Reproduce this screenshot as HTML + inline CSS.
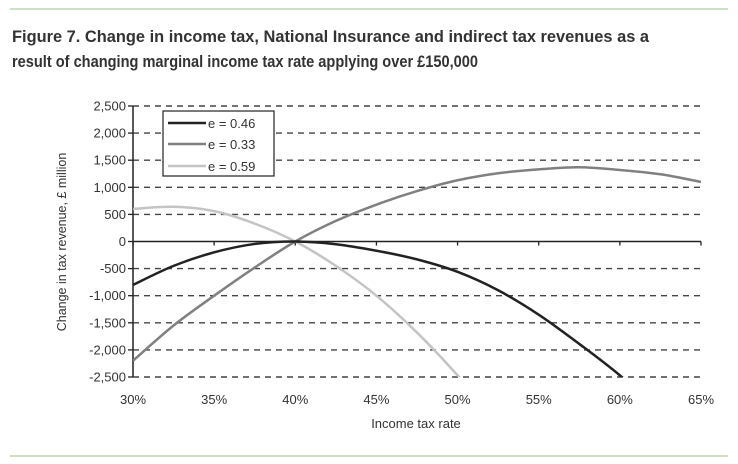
<!DOCTYPE html>
<html><head><meta charset="utf-8"><style>
html,body{margin:0;padding:0;background:#fff;}
svg{display:block;font-family:"Liberation Sans",sans-serif;}
</style></head><body>
<svg id="chart" width="738" height="464" viewBox="0 0 738 464">
<line x1="10" y1="9" x2="728" y2="9" stroke="#9dc08b" stroke-width="1"/>
<line x1="10" y1="456" x2="728" y2="456" stroke="#9dc08b" stroke-width="1"/>
<text x="12" y="42" font-size="17" font-weight="bold" fill="#333" textLength="637" lengthAdjust="spacingAndGlyphs">Figure 7. Change in income tax, National Insurance and indirect tax revenues as a</text>
<text x="12" y="67" font-size="17" font-weight="bold" fill="#333" textLength="466" lengthAdjust="spacingAndGlyphs">result of changing marginal income tax rate applying over £150,000</text>
<g id="grid"></g>
<g id="axes"></g>
<g id="series"></g>
<text transform="translate(66,242) rotate(-90)" text-anchor="middle" font-size="12.5" fill="#333">Change in tax revenue, £ million</text>
<text x="416" y="428" text-anchor="middle" font-size="13" fill="#333">Income tax rate</text>
<g>
<rect x="163" y="111" width="111" height="65" fill="#fff" stroke="#222" stroke-width="1.2"/>
<line x1="168" y1="123" x2="206" y2="123" stroke="#222" stroke-width="2.5"/>
<text x="208" y="128" font-size="13" fill="#333">e = 0.46</text>
<line x1="168" y1="144" x2="206" y2="144" stroke="#808080" stroke-width="2.5"/>
<text x="208" y="149" font-size="13" fill="#333">e = 0.33</text>
<line x1="168" y1="166" x2="206" y2="166" stroke="#c4c4c4" stroke-width="2.5"/>
<text x="208" y="171" font-size="13" fill="#333">e = 0.59</text>
</g>
</svg>
<script>
const xTicks = [30,35,40,45,50,55,60,65];
const yTicks = [2500,2000,1500,1000,500,0,-500,-1000,-1500,-2000,-2500];
const rates = [30,32.5,35,37.5,40,42.5,45,47.5,50,52.5,55,57.5,60,62.5,65];
const e046 = [-800,-450,-200,-45,0,-50,-170,-330,-560,-900,-1350,-1890,-2470,-3150,null];
const e033 = [-2200,-1550,-1000,-480,0,380,680,930,1130,1260,1330,1370,1320,1240,1100];
const e059 = [600,640,560,330,0,-450,-1000,-1680,-2470,-3350,null,null,null,null,null];
const X0=133,X1=701,Y0=377,Y1=106;
const sx=v=>X0+(v-30)/(65-30)*(X1-X0);
const sy=v=>Y0-(v+2500)/5000*(Y0-Y1);
const NS="http://www.w3.org/2000/svg";
const grid=document.getElementById('grid'),axes=document.getElementById('axes'),series=document.getElementById('series');
function mk(tag,attrs,parent){const e=document.createElementNS(NS,tag);for(const k in attrs)e.setAttribute(k,attrs[k]);parent.appendChild(e);return e;}
yTicks.forEach(t=>{
  if(t!==0){const l=mk('line',{x1:X0,x2:X1,y1:sy(t),y2:sy(t),stroke:'#444','stroke-width':1.4,'stroke-dasharray':'6,5'},grid);
  
  }
  const tk=mk('line',{x1:X0-5,x2:X0,y1:sy(t),y2:sy(t),stroke:'#222','stroke-width':1.3},axes);
  
  
  const tx=mk('text',{x:X0-7,y:sy(t)+4.5,'text-anchor':'end','font-size':13,fill:'#333'},axes);
  tx.textContent=t.toLocaleString('en-US');
  
  
});
const ya=mk('line',{x1:X0,x2:X0,y1:Y1,y2:Y0,stroke:'#222','stroke-width':1.5},axes);


const xa=mk('line',{x1:X0,x2:X1,y1:sy(0),y2:sy(0),stroke:'#222','stroke-width':1.5},axes);


xTicks.forEach(t=>{
  const tk=mk('line',{x1:sx(t),x2:sx(t),y1:sy(0),y2:sy(0)+4,stroke:'#222','stroke-width':1.3},axes);
  
  
  const tx=mk('text',{x:sx(t),y:404,'text-anchor':'middle','font-size':13,fill:'#333'},axes);
  tx.textContent=t+'%';
  
  
});
function pathFor(vals){
  const pts=[];rates.forEach((r,i)=>{if(vals[i]!==null)pts.push([sx(r),sy(vals[i])]);});
  let d='M'+pts[0][0]+','+pts[0][1];
  for(let i=0;i<pts.length-1;i++){
    const p0=pts[i-1]||pts[i],p1=pts[i],p2=pts[i+1],p3=pts[i+2]||p2;
    const c1=[p1[0]+(p2[0]-p0[0])/6,p1[1]+(p2[1]-p0[1])/6];
    const c2=[p2[0]-(p3[0]-p1[0])/6,p2[1]-(p3[1]-p1[1])/6];
    d+=' C'+c1+' '+c2+' '+p2;
  }
  return d;
}
const defs=mk('defs',{},series);
const cp=mk('clipPath',{id:'clip'},defs);
mk('rect',{x:X0,y:Y1-5,width:X1-X0+2,height:Y0-Y1+5},cp);
[[e033,'#808080','line-e-033'],[e059,'#c4c4c4','line-e-059'],[e046,'#222','line-e-046']].forEach(s=>{
  const p=mk('path',{d:pathFor(s[0]),fill:'none',stroke:s[1],'stroke-width':2.5,'clip-path':'url(#clip)'},series);
  
  
});
</script>
</body></html>
